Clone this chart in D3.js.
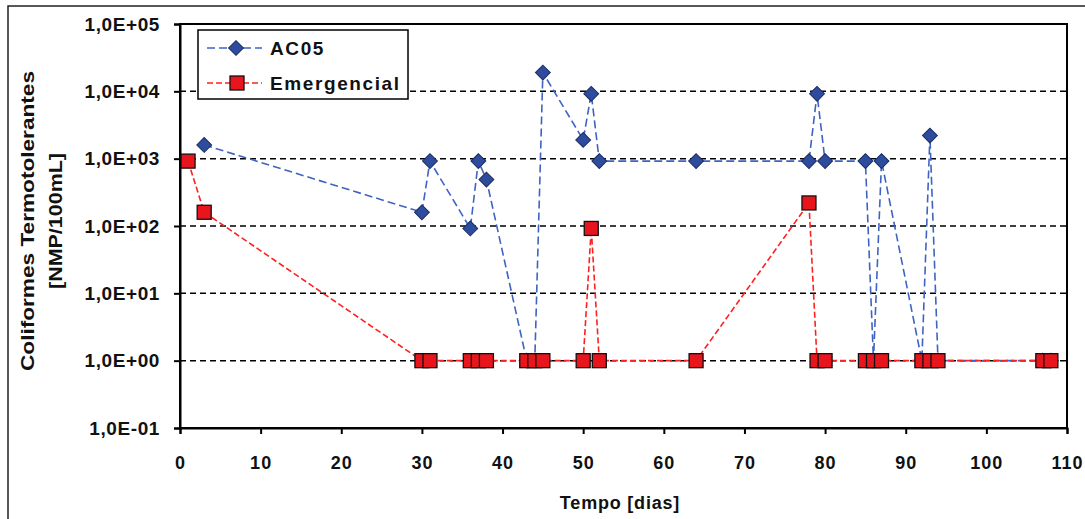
<!DOCTYPE html>
<html><head><meta charset="utf-8">
<script src="https://cdn.jsdelivr.net/npm/d3@7"></script>
<style>
body{margin:0;background:#fff;}
svg{display:block;font-family:"Liberation Sans",Arial,sans-serif;font-weight:bold;}
</style></head>
<body><svg id="c" width="1085" height="519"></svg>
<script>
// ---- data ----
const ac05Days   = [3, 30, 31, 36, 37, 38, 43, 44, 45, 50, 51, 52, 64, 78, 79, 80, 85, 86, 87, 92, 93, 94, 107, 108];
const ac05Values = [1600, 160, 920, 92, 920, 490, 1, 1, 19000, 1900, 9200, 920, 920, 920, 9200, 920, 920, 1, 920, 1, 2200, 1, 1, 1];
const emerDays   = [1, 3, 30, 31, 36, 37, 38, 43, 44, 45, 50, 51, 52, 64, 78, 79, 80, 85, 86, 87, 92, 93, 94, 107, 108];
const emerValues = [920, 160, 1, 1, 1, 1, 1, 1, 1, 1, 1, 92, 1, 1, 220, 1, 1, 1, 1, 1, 1, 1, 1, 1, 1];
const seriesNames = ["AC05", "Emergencial"];
const xTicks = [0, 10, 20, 30, 40, 50, 60, 70, 80, 90, 100, 110];
const yTicks = [0.1, 1, 10, 100, 1000, 10000, 100000];
const yTickLabels = ["1,0E-01", "1,0E+00", "1,0E+01", "1,0E+02", "1,0E+03", "1,0E+04", "1,0E+05"];
const xTitle = "Tempo [dias]";
const yTitle = ["Coliformes Termotolerantes", "[NMP/100mL]"];

// ---- layout ----
const svg = d3.select("#c");
const L = 180, R = 1067, T = 24, B = 428;
const x = d3.scaleLinear().domain([0, 110]).range([L, R]);
const y = d3.scaleLog().domain([0.1, 100000]).range([B, T]);

// outer frame
svg.append("rect").attr("x", 8).attr("y", 6).attr("width", 1100).attr("height", 540)
  .attr("fill", "none").attr("stroke", "#222").attr("stroke-width", 1.5);

// gridlines
svg.append("g").selectAll("line").data(yTicks.filter(v => v > 0.1 && v < 100000)).join("line")
  .attr("x1", L).attr("x2", R).attr("y1", d => y(d)).attr("y2", d => y(d))
  .attr("stroke", "#000").attr("stroke-width", 1.5).attr("stroke-dasharray", "6,4");

// plot frame
svg.append("rect").attr("x", L).attr("y", T).attr("width", R - L).attr("height", B - T)
  .attr("fill", "none").attr("stroke", "#000").attr("stroke-width", 2);

// axes
const yAxis = d3.axisLeft(y).tickValues(yTicks).tickSize(6).tickPadding(14)
  .tickFormat((d, i) => yTickLabels[i]);
const gy = svg.append("g").attr("transform", `translate(${L},0)`).call(yAxis);
gy.select(".domain").attr("stroke", "#000").attr("stroke-width", 2);
gy.selectAll(".tick line").attr("stroke", "#000").attr("stroke-width", 2);
gy.selectAll(".tick text").attr("font-size", 19).attr("font-family", "Liberation Sans, Arial, sans-serif")
  .attr("font-weight", "bold").attr("fill", "#111").attr("letter-spacing", 0.6);

const xAxis = d3.axisBottom(x).tickValues(xTicks).tickSize(6).tickPadding(22);
const gx = svg.append("g").attr("transform", `translate(0,${B})`).call(xAxis);
gx.select(".domain").attr("stroke", "#000").attr("stroke-width", 2);
gx.selectAll(".tick line").attr("stroke", "#000").attr("stroke-width", 2);
gx.selectAll(".tick text").attr("font-size", 18).attr("font-family", "Liberation Sans, Arial, sans-serif")
  .attr("font-weight", "bold").attr("fill", "#111").attr("letter-spacing", 1);

// titles
svg.append("text").attr("x", 620).attr("y", 509).attr("text-anchor", "middle")
  .attr("font-size", 18).attr("fill", "#111").attr("letter-spacing", 0.8).text(xTitle);
yTitle.forEach((t, i) => {
  svg.append("text").attr("transform", `translate(${i === 0 ? 34 : 62},221) rotate(-90)`)
    .attr("text-anchor", "middle").attr("font-size", 18).attr("fill", "#111")
    .attr("textLength", i === 0 ? 300 : 136).attr("lengthAdjust", "spacingAndGlyphs").text(t);
});

// series
const blueLine = "#3F63C2", blueFill = "#2D4C9E", redLine = "#FF2020", redFill = "#E8161C";
const ac05 = ac05Days.map((d, i) => [d, ac05Values[i]]);
const emer = emerDays.map((d, i) => [d, emerValues[i]]);
const line = d3.line().x(d => x(d[0])).y(d => y(d[1]));

svg.append("path").datum(ac05).attr("d", line).attr("fill", "none")
  .attr("stroke", blueLine).attr("stroke-width", 1.6).attr("stroke-dasharray", "8,4");
svg.append("g").selectAll("path").data(ac05).join("path")
  .attr("transform", d => `translate(${x(d[0])},${y(d[1])}) rotate(45)`)
  .attr("d", d3.symbol().type(d3.symbolSquare).size(110))
  .attr("fill", blueFill).attr("stroke", "#1B2C60").attr("stroke-width", 1);

svg.append("path").datum(emer).attr("d", line).attr("fill", "none")
  .attr("stroke", redLine).attr("stroke-width", 1.6).attr("stroke-dasharray", "6,3");
svg.append("g").selectAll("rect").data(emer).join("rect")
  .attr("x", d => x(d[0]) - 7).attr("y", d => y(d[1]) - 7).attr("width", 14).attr("height", 14)
  .attr("fill", redFill).attr("stroke", "#111").attr("stroke-width", 1.3);

// legend
const lg = svg.append("g");
lg.append("rect").attr("x", 198).attr("y", 30).attr("width", 210).attr("height", 69)
  .attr("fill", "#fff").attr("stroke", "#000").attr("stroke-width", 1.5);
const items = [
  {name: seriesNames[0], y: 48, color: blueLine, dash: "8,4"},
  {name: seriesNames[1], y: 83, color: redLine, dash: "6,3"}
];
items.forEach((it, i) => {
  lg.append("line").attr("x1", 207).attr("x2", 262).attr("y1", it.y).attr("y2", it.y)
    .attr("stroke", it.color).attr("stroke-width", 1.6).attr("stroke-dasharray", it.dash);
  if (i === 0) {
    lg.append("path").attr("transform", `translate(236,${it.y}) rotate(45)`)
      .attr("d", d3.symbol().type(d3.symbolSquare).size(110))
      .attr("fill", blueFill).attr("stroke", "#1B2C60").attr("stroke-width", 1);
  } else {
    lg.append("rect").attr("x", 230).attr("y", it.y - 7).attr("width", 14).attr("height", 14)
      .attr("fill", redFill).attr("stroke", "#111").attr("stroke-width", 1.3);
  }
  lg.append("text").attr("x", 270).attr("y", it.y).attr("dy", "0.36em")
    .attr("font-size", 19).attr("fill", "#111").attr("letter-spacing", 1.6).text(it.name);
});
</script></body></html>
